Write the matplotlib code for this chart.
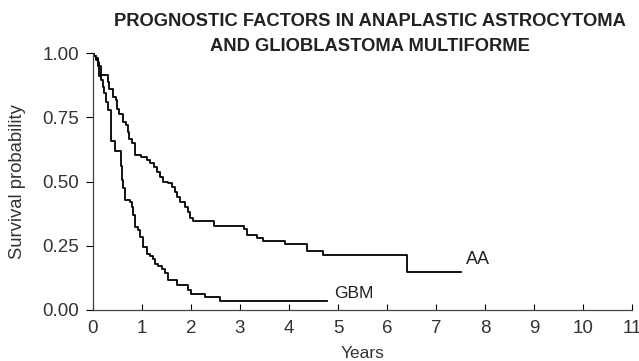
import matplotlib
matplotlib.use("Agg")
import matplotlib.pyplot as plt

# ---------- data (years, survival after the step) ----------
aa_t = [0.00, 0.03, 0.06, 0.10, 0.13, 0.16, 0.30, 0.33, 0.40, 0.47, 0.50, 0.54,
        0.61, 0.67, 0.71, 0.74, 0.79, 0.86, 0.99, 1.10, 1.16, 1.25, 1.30, 1.37,
        1.43, 1.54, 1.61, 1.67, 1.71, 1.78, 1.88, 1.94, 1.98, 2.05, 2.47, 3.08,
        3.15, 3.34, 3.48, 3.92, 4.36, 4.70, 6.40, 7.52]
aa_s = [1.00, 0.99, 0.98, 0.965, 0.95, 0.915, 0.888, 0.862, 0.83, 0.817, 0.785, 0.765,
        0.733, 0.72, 0.694, 0.668, 0.649, 0.603, 0.597, 0.585, 0.571, 0.558, 0.538, 0.519,
        0.499, 0.493, 0.48, 0.46, 0.44, 0.42, 0.40, 0.38, 0.36, 0.347, 0.327, 0.314,
        0.292, 0.279, 0.268, 0.256, 0.231, 0.214, 0.149, 0.149]

gbm_t = [0.00, 0.03, 0.06, 0.10, 0.13, 0.16, 0.20, 0.23, 0.27, 0.30, 0.37, 0.45,
         0.57, 0.59, 0.62, 0.65, 0.76, 0.79, 0.82, 0.86, 0.92, 0.96, 1.03, 1.10,
         1.17, 1.23, 1.27, 1.33, 1.40, 1.47, 1.54, 1.71, 1.94, 2.01, 2.29, 2.59, 4.77]
gbm_s = [1.00, 0.99, 0.975, 0.95, 0.91, 0.895, 0.87, 0.844, 0.81, 0.778, 0.66, 0.62,
         0.56, 0.506, 0.474, 0.43, 0.42, 0.40, 0.37, 0.324, 0.311, 0.285, 0.246, 0.22,
         0.21, 0.20, 0.18, 0.17, 0.16, 0.144, 0.117, 0.097, 0.078, 0.062, 0.049, 0.036, 0.036]

x_ticks = list(range(0, 12))
y_ticks = [0.0, 0.25, 0.5, 0.75, 1.0]
y_ticklabels = ["0.00", "0.25", "0.50", "0.75", "1.00"]

title_lines = ["PROGNOSTIC FACTORS IN ANAPLASTIC ASTROCYTOMA",
               "AND GLIOBLASTOMA MULTIFORME"]

plt.rcParams["font.family"] = ["Liberation Sans", "DejaVu Sans"]

fig = plt.figure(figsize=(6.39, 3.61), dpi=100)
ax = fig.add_axes([0.1455, 0.1413, 0.8435, 0.711])

ax.step(aa_t, aa_s, where="post", color="black", lw=1.3)
ax.step(gbm_t, gbm_s, where="post", color="black", lw=1.3)

ax.text(7.62, 0.195, "AA", fontsize=13, va="center", ha="left", color="#222222")
ax.text(4.92, 0.065, "GBM", fontsize=12.5, va="center", ha="left", color="#222222")

ax.set_xlim(0, 11)
ax.set_ylim(0, 1)
ax.set_xticks(x_ticks)
ax.set_yticks(y_ticks)
ax.set_yticklabels(y_ticklabels)
ax.tick_params(axis="x", direction="in", length=4, width=0.8, labelsize=13.5, pad=7)
ax.tick_params(axis="y", direction="out", length=5, width=0.8, labelsize=13.5, pad=5)
for lab in ax.get_xticklabels() + ax.get_yticklabels():
    lab.set_color("#333333")

for s in ["top", "right"]:
    ax.spines[s].set_visible(False)
for s in ["left", "bottom"]:
    ax.spines[s].set_linewidth(0.9)
    ax.spines[s].set_color("#444444")

ax.set_xlabel("Years", fontsize=12.5, color="#333333", labelpad=7)
ax.set_ylabel("Survival probability", fontsize=13.3, color="#333333", labelpad=12)

fig.text(0.579, 0.94, title_lines[0], ha="center", va="center", fontsize=13.2,
         fontweight="bold", color="#222222")
fig.text(0.579, 0.872, title_lines[1], ha="center", va="center", fontsize=13.2,
         fontweight="bold", color="#222222")

fig.savefig("out.png", dpi=100)
